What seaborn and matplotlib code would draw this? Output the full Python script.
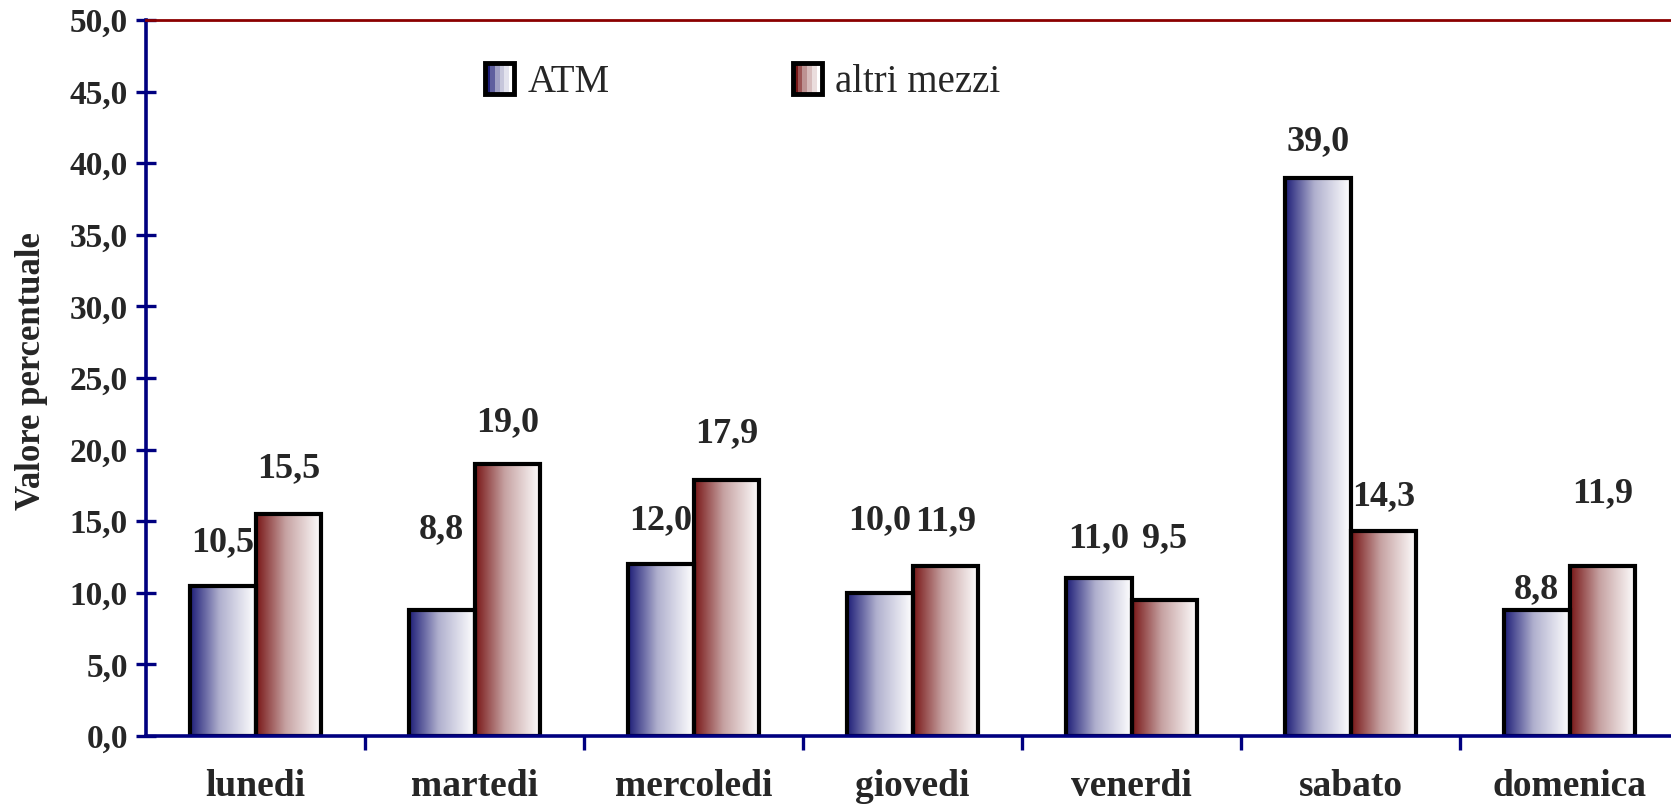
import numpy as np
import pandas as pd
import seaborn as sns
import matplotlib
matplotlib.use("Agg")
import matplotlib.pyplot as plt
from matplotlib.colors import LinearSegmentedColormap
from matplotlib.patches import Rectangle, Patch
from matplotlib.legend_handler import HandlerBase
from matplotlib.ticker import FixedLocator, MultipleLocator

# data
giorni = ["lunedi", "martedi", "mercoledi", "giovedi", "venerdi", "sabato", "domenica"]
serie = ["ATM", "altri mezzi"]
atm = [10.5, 8.8, 12.0, 10.0, 11.0, 39.0, 8.8]
altri = [15.5, 19.0, 17.9, 11.9, 9.5, 14.3, 11.9]

# how far (points) each value label sits above its bar, like in the original
lift_atm = [31, 58, 31, 52, 29, 26, 15]
lift_altri = [33, 30, 33, 32, 44, 25, 52]

NAVY = "#000080"
DARKRED = "#8b0000"

sns.set_style("white")
plt.rcParams["font.family"] = ["Liberation Serif", "DejaVu Serif"]

df = pd.DataFrame({
    "giorno": giorni * 2,
    "valore": atm + altri,
    "serie": [serie[0]] * len(giorni) + [serie[1]] * len(giorni),
})

cmaps = [
    LinearSegmentedColormap.from_list("atm", [(0, "#1e1e78"), (0.45, "#b0b0ce"), (1, "#ffffff")]),
    LinearSegmentedColormap.from_list("altri", [(0, "#781616"), (0.45, "#c6a2a2"), (1, "#ffffff")]),
]

fig, ax = plt.subplots(figsize=(16.71, 8.08), dpi=100)
fig.subplots_adjust(left=146 / 1671, right=(146 + 7 * 219) / 1671,
                    top=1 - 20 / 808, bottom=1 - 736 / 808)

sns.barplot(data=df, x="giorno", y="valore", hue="serie", ax=ax,
            palette=["#1e1e78", "#781616"], width=0.6, gap=0, saturation=1,
            edgecolor="black", linewidth=3, legend=False)

grad = np.linspace(0, 1, 256).reshape(1, -1)
lifts = [lift_atm, lift_altri]
for i, cont in enumerate(ax.containers):
    for j, bar in enumerate(cont):
        x0, y0 = bar.get_x(), bar.get_y()
        w, h = bar.get_width(), bar.get_height()
        ax.imshow(grad, extent=[x0, x0 + w, y0, y0 + h], aspect="auto",
                  cmap=cmaps[i], zorder=1.5, interpolation="bicubic")
        bar.set_facecolor("none")
        bar.set_zorder(2)
        ax.annotate(f"{h:.1f}".replace(".", ","), (x0 + w / 2, y0 + h),
                    xytext=(0, lifts[i][j]), textcoords="offset points",
                    ha="center", va="center", fontsize=26, fontweight="bold")

ax.set_xlim(-0.5, 6.5)
ax.set_ylim(0, 50)
ax.yaxis.set_major_locator(MultipleLocator(5))
ax.yaxis.set_major_formatter(lambda v, p: f"{v:.1f}".replace(".", ","))

ax.xaxis.set_minor_locator(FixedLocator(np.arange(0.5, 6.5, 1)))
ax.tick_params(axis="x", which="major", length=0, pad=24, labelsize=27)
ax.tick_params(axis="x", which="minor", direction="out", length=10, width=2.4,
               color=NAVY, bottom=True)
ax.tick_params(axis="y", direction="inout", length=14, width=2.4, color=NAVY,
               pad=6, labelsize=24, left=True)
for lab in ax.get_xticklabels() + ax.get_yticklabels():
    lab.set_fontweight("bold")

ax.set_xlabel("")
ax.set_ylabel("")
fig.text(32 / 1671, 1 - 371 / 808, "Valore percentuale", rotation=90,
         ha="center", va="center", fontsize=25, fontweight="bold")

for side in ["left", "bottom"]:
    ax.spines[side].set_color(NAVY)
    ax.spines[side].set_linewidth(2.6)
ax.spines["top"].set_color(DARKRED)
ax.spines["top"].set_linewidth(2.0)
ax.spines["right"].set_visible(False)


class GradHandler(HandlerBase):
    def __init__(self, cmap):
        super().__init__()
        self.cmap = cmap

    def create_artists(self, legend, orig_handle, xdescent, ydescent,
                       width, height, fontsize, trans):
        n = 6
        arts = []
        for k in range(n):
            arts.append(Rectangle((-xdescent + width * k / n, -ydescent), width / n, height,
                                  facecolor=self.cmap(k / (n - 1)), edgecolor="none",
                                  transform=trans))
        arts.append(Rectangle((-xdescent, -ydescent), width, height, facecolor="none",
                              edgecolor="black", linewidth=3.5, transform=trans))
        return arts


handles = [Patch(label=s) for s in serie]
ax.legend(handles=handles, labels=serie, ncol=2, frameon=False,
          handler_map={handles[0]: GradHandler(cmaps[0]), handles[1]: GradHandler(cmaps[1])},
          loc="center left", bbox_to_anchor=(485 / 1671, 1 - 82 / 808),
          bbox_transform=fig.transFigure, borderpad=0, borderaxespad=0,
          fontsize=28, handlelength=0.75, handleheight=0.85, handletextpad=0.35,
          columnspacing=4.7)

fig.savefig("out.png", dpi=100)
